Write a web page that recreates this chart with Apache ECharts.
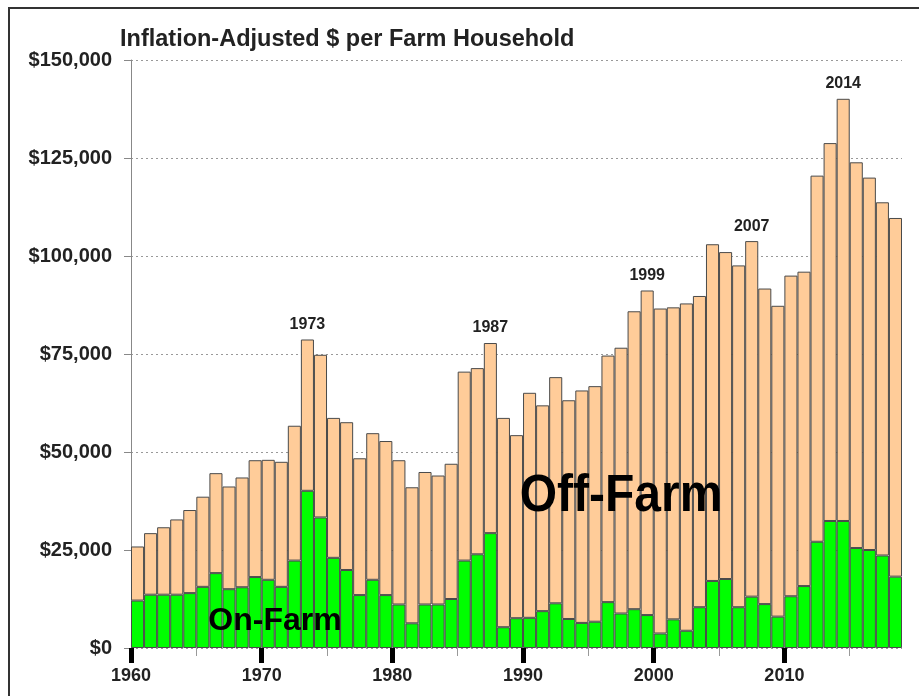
<!DOCTYPE html>
<html>
<head>
<meta charset="utf-8">
<script src="https://cdn.jsdelivr.net/npm/echarts@6/dist/echarts.min.js"></script>
<style>
html,body{margin:0;padding:0;background:#fff;}
#chart{width:919px;height:696px;}
</style>
</head>
<body>
<div id="chart"></div>
<script>
const years = ['1960','1961','1962','1963','1964','1965','1966','1967','1968','1969',
  '1970','1971','1972','1973','1974','1975','1976','1977','1978','1979',
  '1980','1981','1982','1983','1984','1985','1986','1987','1988','1989',
  '1990','1991','1992','1993','1994','1995','1996','1997','1998','1999',
  '2000','2001','2002','2003','2004','2005','2006','2007','2008','2009',
  '2010','2011','2012','2013','2014','2015','2016','2017','2018'];

const onFarm = [12100,13600,13600,13600,14000,15600,19100,15000,15500,18100,
  17400,15600,22300,40100,33300,23000,19900,13500,17400,13500,
  11100,6300,11100,11100,12500,22300,23900,29300,5300,7600,
  7700,9400,11400,7400,6400,6700,11700,8800,9900,8400,
  3700,7300,4400,10400,17100,17600,10400,13100,11200,8000,
  13200,15800,27100,32400,32400,25500,25000,23600,18200];

const offFarm = [13800,15700,17200,19200,21200,23000,25500,26200,28000,29800,
  30600,31900,34400,38600,41500,35700,37700,34900,37400,39300,
  36800,34700,33800,32900,34500,48200,47500,48500,53400,46700,
  57400,52500,57700,55800,59300,60100,62900,67800,76000,82800,
  82900,79600,83500,79400,85900,83400,87200,90700,80500,79300,
  81800,80200,93400,96400,107700,98400,95000,90100,91500];

const peakYears = ['1973','1987','1999','2007','2014'];
const yTicks = [0,25000,50000,75000,100000,125000,150000];
const decadeTicks = [1960,1970,1980,1990,2000,2010];
const halfDecadeTicks = [1965,1975,1985,1995,2005,2015];

const titleText = 'Inflation-Adjusted $ per Farm Household';
const offLabel = 'Off-Farm';
const onLabel = 'On-Farm';

const FONT = '"Liberation Sans", Arial, sans-serif';
const chart = echarts.init(document.getElementById('chart'), null, {renderer:'canvas'});

const barBorder = {borderColor:'#4a4a4a', borderWidth:1};

chart.setOption({
  animation:false,
  backgroundColor:'#fff',
  grid:{left:131, right:17, top:60, bottom:48, containLabel:false},
  xAxis:[
    {type:'category', data:years, show:false, boundaryGap:true},
    {type:'value', min:1960, max:2019, position:'bottom',
     axisLine:{show:false}, splitLine:{show:false},
     axisTick:{show:true, customValues:decadeTicks, length:15, lineStyle:{color:'#000', width:5}},
     axisLabel:{show:true, customValues:decadeTicks, margin:19, fontFamily:FONT, fontWeight:'bold', fontSize:18, color:'#222',
       formatter:v=>String(v)}},
    {type:'value', min:1960, max:2019, position:'bottom',
     axisLine:{show:false}, splitLine:{show:false},
     axisTick:{show:true, customValues:halfDecadeTicks, length:8, lineStyle:{color:'#999', width:1}},
     axisLabel:{show:false}}
  ],
  yAxis:{type:'value', min:0, max:150000, interval:25000,
    axisLine:{show:true, lineStyle:{color:'#888', width:1}},
    axisTick:{show:true, length:7, lineStyle:{color:'#888'}},
    axisLabel:{margin:19, fontFamily:FONT, fontWeight:'bold', fontSize:20, color:'#222',
      formatter:v=>'$'+v.toLocaleString('en-US')},
    splitLine:{show:true, lineStyle:{color:'#999', type:[2,3], width:1}}
  },
  series:[
    {name:'On-Farm', type:'bar', stack:'total', xAxisIndex:0, data:onFarm,
     barCategoryGap:'0%', itemStyle:Object.assign({color:'#00ff00'}, barBorder)},
    {name:'Off-Farm', type:'bar', stack:'total', xAxisIndex:0, data:offFarm,
     barCategoryGap:'0%', itemStyle:Object.assign({color:'#ffcc99'}, barBorder),
     label:{show:true, position:'top', distance:7, fontFamily:FONT, fontWeight:'bold', fontSize:16, color:'#222',
       formatter:p=>peakYears.includes(p.name)?p.name:''}}
  ],
  graphic:[
    {type:'rect', shape:{x:9, y:8, width:930, height:720}, style:{fill:'none', stroke:'#333', lineWidth:2}, silent:true},
    {type:'text', left:120, top:28, style:{text:titleText, fontFamily:FONT, fontWeight:'bold', fontSize:23.5, fill:'#222'}},
    {type:'text', x:621, y:497, scaleY:1.08, style:{text:offLabel, fontFamily:FONT, fontWeight:'bold', fontSize:48, fill:'#000', align:'center', verticalAlign:'middle'}, z:10},
    {type:'text', x:275, y:621, style:{text:onLabel, fontFamily:FONT, fontWeight:'bold', fontSize:32, fill:'#000', align:'center', verticalAlign:'middle'}, z:10}
  ]
});
</script>
</body>
</html>
